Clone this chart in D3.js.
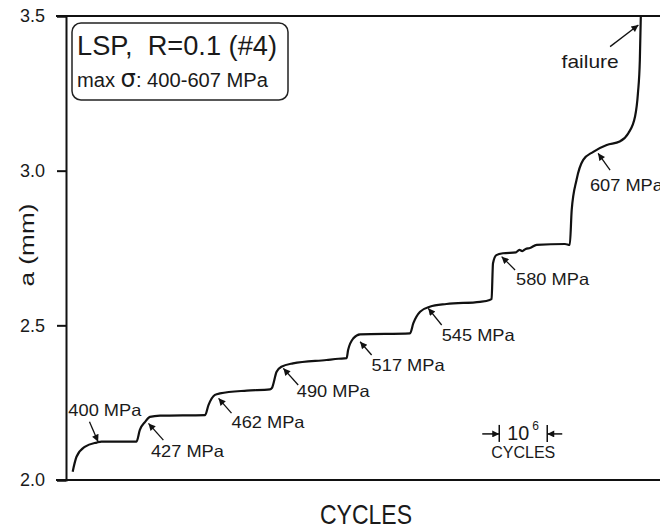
<!DOCTYPE html>
<html><head><meta charset="utf-8">
<script src="https://cdn.jsdelivr.net/npm/d3@7"></script>
<style>
html,body{margin:0;padding:0;background:#fff;}
svg{display:block;}
text{font-family:"Liberation Sans",Arial,sans-serif;fill:#1a1a1a;white-space:pre;}
</style></head>
<body>
<svg id="chart" width="660" height="531"></svg>
<script>
// ---- data (cycles in units of 10^6, crack length a in mm) ----
const cycles = [0.16,0.24,0.42,0.66,0.76,1.49,
  1.56,1.67,1.77,1.98,2.92,
  2.99,3.125,3.23,3.79,4.27,
  4.31,4.41,4.51,4.75,5.45,5.70,5.87,
  5.90,6.01,6.15,7.19,
  7.26,7.40,7.60,7.95,8.65,8.85,
  8.89,8.92,8.99,9.13,9.40,9.47,9.53,9.60,9.69,9.83,10.42,
  10.52,10.56,10.66,10.80,11.01,11.29,11.56,11.74,11.88,11.94,11.98,12.0];
const crackLength = [2.027,2.075,2.108,2.121,2.124,2.124,
  2.162,2.188,2.204,2.208,2.210,
  2.242,2.275,2.280,2.289,2.293,
  2.297,2.350,2.366,2.377,2.388,2.392,2.394,
  2.420,2.458,2.471,2.474,
  2.507,2.544,2.560,2.569,2.576,2.582,
  2.585,2.701,2.727,2.733,2.736,2.744,2.740,2.747,2.750,2.760,2.763,
  2.760,2.873,2.970,3.035,3.061,3.083,3.094,3.121,3.175,3.250,3.358,3.498];
const yTicks = [2.0, 2.5, 3.0, 3.5];
const yTickLabels = ["2.0","2.5","3.0","3.5"];
const xDomain = [0, 12.4];
const yDomain = [2.0, 3.5];

// annotations: label, text anchor (data), arrow tail (data), arrow head (data)
const annLabels = ["400 MPa","427 MPa","462 MPa","490 MPa","517 MPa","545 MPa","580 MPa","607 MPa","failure"];
const annTextX  = [0.07,1.79,3.47,4.83,6.39,7.85,9.40,10.94,10.35];
const annTextY  = [2.207,2.074,2.168,2.268,2.352,2.449,2.630,2.934,3.332];
const annTailX  = [0.51,2.05,3.47,4.86,6.39,7.85,9.38,11.36,11.36];
const annTailY  = [2.188,2.129,2.216,2.307,2.404,2.501,2.679,3.002,3.401];
const annHeadX  = [0.69,1.74,3.20,4.55,6.15,7.57,9.10,11.11,11.95];
const annHeadY  = [2.124,2.183,2.264,2.361,2.447,2.555,2.722,3.056,3.471];

const legendLine1 = "LSP,  R=0.1 (#4)";
const legendLine2a = "max ";
const legendSigma = "σ";
const legendLine2b = ": 400-607 MPa";
const yTitle = "a (mm)";
const xTitle = "CYCLES";
const scaleBarStart = 9.05; // in 10^6 cycles, bar length = 1 (10^6 cycles)
const scaleBarY = 2.149;

// ---- drawing ----
const svg = d3.select("#chart");
const x = d3.scaleLinear().domain(xDomain).range([65, 660]);
const y = d3.scaleLinear().domain(yDomain).range([480, 16]);

const defs = svg.append("defs");
defs.append("marker").attr("id","ah").attr("viewBox","0 0 10 10")
  .attr("refX",10).attr("refY",5).attr("markerWidth",9).attr("markerHeight",7)
  .attr("markerUnits","userSpaceOnUse").attr("orient","auto")
  .append("path").attr("d","M0,0 L10,5 L0,10 z").attr("fill","#111");

// top frame line and bottom axis line
svg.append("line").attr("x1",56).attr("x2",660).attr("y1",y(3.5)).attr("y2",y(3.5))
  .attr("stroke","#111").attr("stroke-width",2);
svg.append("line").attr("x1",56).attr("x2",660).attr("y1",y(2.0)).attr("y2",y(2.0))
  .attr("stroke","#111").attr("stroke-width",2.2);

// y axis
const yAxis = d3.axisLeft(y).tickValues(yTicks).tickFormat((d,i)=>yTickLabels[i])
  .tickSize(9).tickPadding(12);
const gy = svg.append("g").attr("transform","translate(66,0)").call(yAxis);
gy.select(".domain").attr("stroke","#111").attr("stroke-width",2);
gy.selectAll(".tick line").attr("stroke","#111").attr("stroke-width",2);
gy.selectAll(".tick text").attr("font-size",18).attr("fill","#1a1a1a")
  .attr("font-family","Liberation Sans, Arial, sans-serif");

// curve
const line = d3.line().x(d=>x(d[0])).y(d=>y(d[1])).curve(d3.curveMonotoneX);
svg.append("path").datum(cycles.map((c,i)=>[c,crackLength[i]]))
  .attr("d",line).attr("fill","none").attr("stroke","#111")
  .attr("stroke-width",2.2).attr("stroke-linejoin","round");

// annotations
annLabels.forEach((lab,i)=>{
  svg.append("line").attr("x1",x(annTailX[i])).attr("y1",y(annTailY[i]))
    .attr("x2",x(annHeadX[i])).attr("y2",y(annHeadY[i]))
    .attr("stroke","#111").attr("stroke-width",1.3).attr("marker-end","url(#ah)");
  const t = svg.append("text").attr("x",x(annTextX[i])).attr("y",y(annTextY[i]))
    .attr("font-size", lab==="failure"?19:16.5).text(lab);
  t.attr("textLength", lab==="failure"?57:73).attr("lengthAdjust","spacingAndGlyphs");
});

// legend box
svg.append("rect").attr("x",72).attr("y",23).attr("width",216).attr("height",77)
  .attr("rx",9).attr("fill","none").attr("stroke","#222").attr("stroke-width",1.5);
svg.append("text").attr("x",77).attr("y",55).attr("font-size",27)
  .attr("textLength",200).attr("lengthAdjust","spacingAndGlyphs").text(legendLine1);
const l2 = svg.append("text").attr("x",77).attr("y",87).attr("font-size",20);
l2.append("tspan").text(legendLine2a);
l2.append("tspan").attr("font-size",24).attr("font-family","DejaVu Sans, sans-serif").text(legendSigma);
l2.append("tspan").text(legendLine2b);
l2.attr("textLength",191).attr("lengthAdjust","spacingAndGlyphs");

// axis titles
svg.append("text").attr("transform","translate(34,245) rotate(-90)")
  .attr("text-anchor","middle").attr("font-size",21)
  .attr("textLength",83).attr("lengthAdjust","spacingAndGlyphs").text(yTitle);
svg.append("text").attr("x",320).attr("y",524).attr("font-size",28)
  .attr("textLength",92).attr("lengthAdjust","spacingAndGlyphs").text(xTitle);

// scale bar
const sx0 = x(scaleBarStart), sx1 = x(scaleBarStart+1), sy = y(scaleBarY);
[sx0,sx1].forEach(v=>svg.append("line").attr("x1",v).attr("x2",v)
  .attr("y1",sy-9).attr("y2",sy+8).attr("stroke","#111").attr("stroke-width",1.5));
svg.append("line").attr("x1",sx0-17).attr("x2",sx0).attr("y1",sy).attr("y2",sy)
  .attr("stroke","#111").attr("stroke-width",1.5).attr("marker-end","url(#ah)");
svg.append("line").attr("x1",sx1+15).attr("x2",sx1).attr("y1",sy).attr("y2",sy)
  .attr("stroke","#111").attr("stroke-width",1.5).attr("marker-end","url(#ah)");
svg.append("text").attr("x",sx0+8).attr("y",sy+6).attr("font-size",20)
  .attr("textLength",22).attr("lengthAdjust","spacingAndGlyphs").text("10");
svg.append("text").attr("x",sx0+33).attr("y",sy-4).attr("font-size",12).text("6");
svg.append("text").attr("x",(sx0+sx1)/2).attr("y",sy+24).attr("font-size",16)
  .attr("text-anchor","middle").attr("textLength",64).attr("lengthAdjust","spacingAndGlyphs")
  .text("CYCLES");
</script>
</body></html>
